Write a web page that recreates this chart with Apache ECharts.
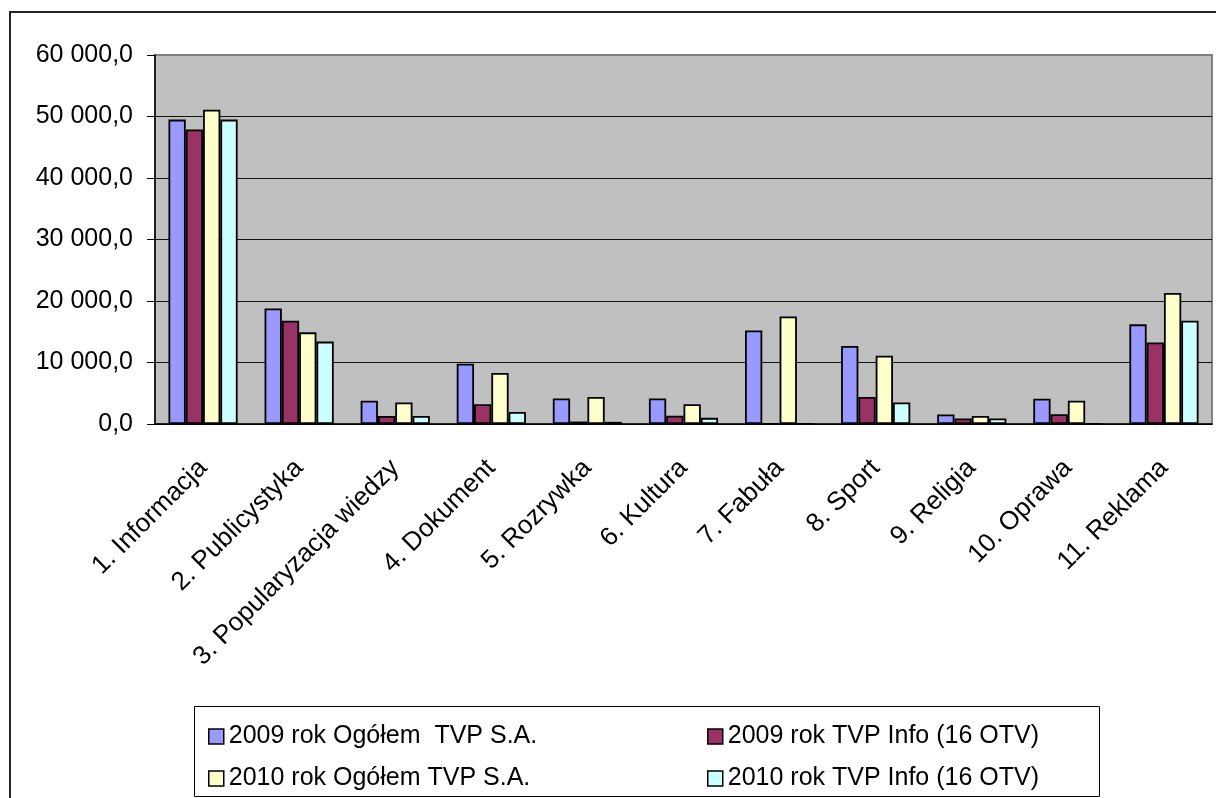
<!DOCTYPE html>
<html>
<head>
<meta charset="utf-8">
<script src="https://cdn.jsdelivr.net/npm/echarts@6/dist/echarts.min.js"></script>
<style>
html,body{margin:0;padding:0;background:#fff;}
#c{width:1216px;height:798px;}
</style>
</head>
<body>
<div id="c"></div>
<script>
const categories = ['1. Informacja','2. Publicystyka','3. Popularyzacja wiedzy','4. Dokument','5. Rozrywka','6. Kultura','7. Fabuła','8. Sport','9. Religia','10. Oprawa','11. Reklama'];
const seriesNames = ['2009 rok Ogółem  TVP S.A.','2009 rok TVP Info (16 OTV)','2010 rok Ogółem TVP S.A.','2010 rok TVP Info (16 OTV)'];
const ogolem2009 = [49500, 18800, 3800, 9800, 4150, 4150, 15200, 12700, 1550, 4100, 16200];
const info2009   = [47900, 16800, 1300, 3200, 400, 1350, 0, 4400, 900, 1600, 13250];
const ogolem2010 = [51100, 14900, 3500, 8300, 4400, 3200, 17500, 11100, 1300, 3800, 21300];
const info2010   = [49500, 13400, 1300, 1950, 350, 1000, 0, 3500, 900, 0, 16800];
const colors = ['#9999FF','#993366','#FFFFCC','#CCFFFF'];
const yMin = 0, yMax = 60000, yStep = 10000;

const font = 'Liberation Sans, Arial, sans-serif';
function fmt(v){
  const s = Math.round(v).toString().replace(/\B(?=(\d{3})+(?!\d))/g,' ');
  return s + ',0';
}
const values = [ogolem2009, info2009, ogolem2010, info2010];
const chart = echarts.init(document.getElementById('c'));
const legendPos = [[203,719],[702,719],[203,761],[702,761]];
chart.setOption({
  animation:false,
  backgroundColor:'#fff',
  graphic:[
    {type:'rect', shape:{x:10,y:12,width:1300,height:900}, style:{fill:'none',stroke:'#222',lineWidth:2}, z:-10},
    {type:'rect', shape:{x:194.5,y:706.5,width:905,height:90}, style:{fill:'#fff',stroke:'#000',lineWidth:1}, z:-5}
  ],
  grid:{left:155,top:55,right:4,bottom:374,show:true,backgroundColor:'#C0C0C0',borderColor:'#808080',borderWidth:2},
  legend: seriesNames.map((n,i)=>({
    data:[n], icon:'rect', left:legendPos[i][0], top:legendPos[i][1], itemWidth:15, itemHeight:15, itemGap:0, itemTextGap:9,
    itemStyle:{borderColor:'#000',borderWidth:1.5},
    textStyle:{fontFamily:font,fontSize:25,color:'#000'}, z:10
  })),
  xAxis:{
    type:'category', data:categories,
    axisLine:{lineStyle:{color:'#000',width:1.5}},
    axisTick:{length:7,lineStyle:{color:'#000'}},
    axisLabel:{rotate:45,margin:40,interval:0,fontFamily:font,fontSize:26,color:'#000'}
  },
  yAxis:{
    type:'value', min:yMin, max:yMax, interval:yStep,
    axisLine:{show:true,lineStyle:{color:'#000',width:1.5}},
    axisTick:{show:true,length:8,lineStyle:{color:'#000'}},
    axisLabel:{margin:22,fontFamily:font,fontSize:25,color:'#000',formatter:fmt},
    splitLine:{show:true,showMaxLine:false,lineStyle:{color:'#111',width:1.2}}
  },
  series: seriesNames.map((n,i)=>({
    name:n, type:'bar', data:values[i], barGap:'0%', barCategoryGap:'28%',
    itemStyle:{color:colors[i],borderColor:'#000',borderWidth:1.8}
  }))
});
</script>
</body>
</html>
